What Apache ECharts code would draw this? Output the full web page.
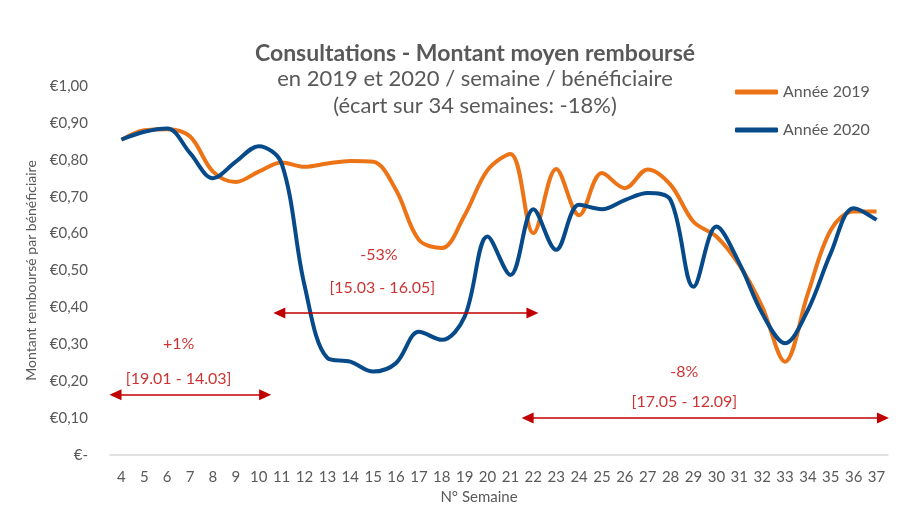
<!DOCTYPE html>
<html>
<head>
<meta charset="utf-8">
<script src="https://cdn.jsdelivr.net/npm/echarts@6/dist/echarts.min.js"></script>
<style>
html,body{margin:0;padding:0;background:#fff;}
#chart{width:922px;height:523px;}
</style>
</head>
<body>
<div id="chart"></div>
<script>
// ---- Data ----
var weeks = ['4','5','6','7','8','9','10','11','12','13','14','15','16','17','18','19','20','21','22','23','24','25','26','27','28','29','30','31','32','33','34','35','36','37'];
var y2019 = [0.854,0.880,0.883,0.863,0.768,0.740,0.768,0.793,0.781,0.790,0.797,0.795,0.718,0.583,0.561,0.650,0.772,0.816,0.601,0.775,0.650,0.764,0.723,0.774,0.732,0.632,0.592,0.515,0.402,0.253,0.438,0.610,0.660,0.660];
var y2020 = [0.855,0.876,0.885,0.818,0.750,0.795,0.837,0.790,0.460,0.263,0.253,0.226,0.249,0.334,0.312,0.375,0.592,0.488,0.666,0.556,0.678,0.666,0.691,0.710,0.691,0.456,0.619,0.520,0.384,0.303,0.393,0.547,0.669,0.637];
var seriesNames = ['Année 2019','Année 2020'];
var titleText = 'Consultations - Montant moyen remboursé';
var subText = 'en 2019 et 2020 / semaine / bénéficiaire\n(écart sur 34 semaines: -18%)';
var yAxisName = 'Montant remboursé par bénéficiaire';
var xAxisName = 'N° Semaine';
// annotation texts: [week position, value, text]
var annotTexts = [
  [6.5, 0.300, '+1%'],
  [6.5, 0.206, '[19.01 - 14.03]'],
  [15.25, 0.542, '-53%'],
  [15.4, 0.452, '[15.03 - 16.05]'],
  [28.6, 0.225, '-8%'],
  [28.6, 0.143, '[17.05 - 12.09]']
];
// annotation arrows: [from week, to week, value]
var annotArrows = [
  [3.74, 10.28, 0.163],
  [10.9, 21.96, 0.385],
  [21.75, 37.28, 0.100]
];

var gray = '#595959';
var red = '#C00000';
var font = 'Lato, "Open Sans", sans-serif';

var chart = echarts.init(document.getElementById('chart'), null, {renderer:'canvas'});
chart.setOption({
  animation: false,
  backgroundColor: '#ffffff',
  textStyle: {fontFamily: font},
  title: {
    text: titleText,
    subtext: subText,
    left: 470,
    textAlign: 'center',
    top: 35,
    itemGap: -3,
    textStyle: {fontFamily: font, fontSize: 23, fontWeight: 'bold', color: gray, lineHeight: 28},
    subtextStyle: {fontFamily: font, fontSize: 22, color: gray, lineHeight: 27, align: 'center'}
  },
  legend: {
    data: seriesNames,
    orient: 'vertical',
    left: 730,
    top: 79,
    icon: 'roundRect',
    itemWidth: 43,
    itemHeight: 5,
    itemGap: 22,
    textStyle: {fontFamily: font, fontSize: 16, color: gray}
  },
  grid: {left: 110, right: 34, top: 86, bottom: 68, containLabel: false},
  xAxis: [{
    type: 'category',
    data: weeks,
    boundaryGap: true,
    name: xAxisName,
    nameLocation: 'middle',
    nameGap: 23,
    nameTextStyle: {fontFamily: font, fontSize: 15, color: gray, padding: [0,40,0,0]},
    axisLine: {lineStyle: {color: '#D9D9D9', width: 1.5}},
    axisTick: {show: false},
    axisLabel: {fontFamily: font, fontSize: 15, color: gray, margin: 15, interval: 0}
  }, {
    type: 'value',
    min: 3.5,
    max: 37.5,
    show: false
  }],
  yAxis: {
    type: 'value',
    min: 0,
    max: 1,
    interval: 0.1,
    name: yAxisName,
    nameLocation: 'middle',
    nameGap: 70,
    nameRotate: 90,
    nameTextStyle: {fontFamily: font, fontSize: 14, color: gray},
    axisLine: {show: false},
    axisTick: {show: false},
    splitLine: {show: false},
    axisLabel: {
      fontFamily: font, fontSize: 15, color: gray, margin: 22,
      formatter: function(v){ return v === 0 ? '€-' : '€' + v.toFixed(2).replace('.', ','); }
    }
  },
  series: [{
    name: seriesNames[0],
    type: 'line',
    data: y2019,
    smooth: 0.35,
    symbol: 'none',
    lineStyle: {color: '#EC7416', width: 4},
    itemStyle: {color: '#EC7416'},
    z: 2
  }, {
    name: seriesNames[1],
    type: 'line',
    data: y2020,
    smooth: 0.35,
    symbol: 'none',
    lineStyle: {color: '#074A8A', width: 4},
    itemStyle: {color: '#074A8A'},
    z: 3
  }, {
    name: 'annot',
    type: 'scatter',
    xAxisIndex: 1,
    data: annotTexts,
    symbolSize: 1,
    itemStyle: {color: 'rgba(0,0,0,0)'},
    silent: true,
    label: {
      show: true,
      position: 'inside',
      fontFamily: font,
      fontSize: 16,
      color: red,
      formatter: function(p){ return p.value[2]; }
    },
    markLine: {
      silent: true,
      symbol: ['triangle','triangle'],
      symbolSize: [11, 12],
      label: {show: false},
      lineStyle: {color: red, width: 1.5, type: 'solid'},
      data: annotArrows.map(function(a){ return [{coord:[a[0], a[2]]}, {coord:[a[1], a[2]]}]; })
    }
  }]
});
</script>
</body>
</html>
